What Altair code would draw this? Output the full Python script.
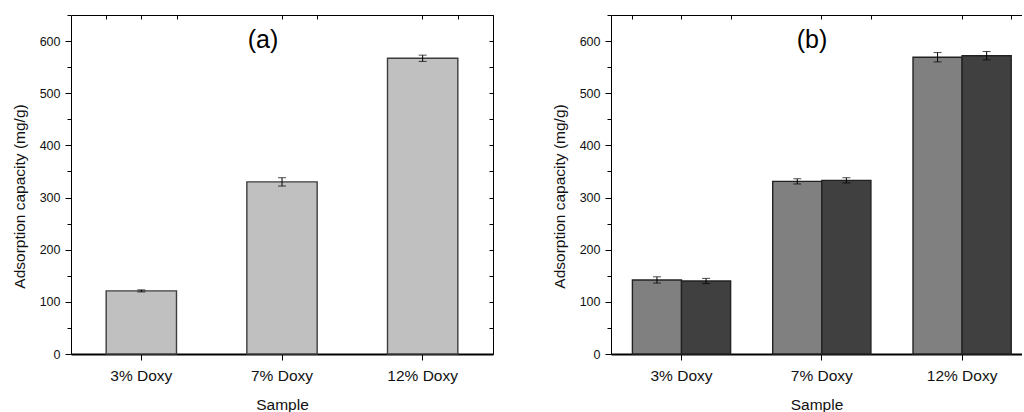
import altair as alt
import pandas as pd

# ---- data ----
samples = ["3% Doxy", "7% Doxy", "12% Doxy"]

a_values = [121, 330, 567]
a_errors = [2, 8, 6]

b_series = ["Series 1", "Series 2"]
b1_values = [142, 331, 569]
b1_errors = [6, 5, 9]
b2_values = [140, 333, 572]
b2_errors = [5, 5, 8]

panel_labels = ["(a)", "(b)"]
y_ticks = list(range(0, 651, 50))

FONT = "Liberation Sans"

# ---- tables ----
df_a = pd.DataFrame({"sample": samples, "value": a_values, "err": a_errors})
df_a["lo"] = df_a["value"] - df_a["err"]
df_a["hi"] = df_a["value"] + df_a["err"]

rows = []
for s, vals, errs in zip(b_series, [b1_values, b2_values], [b1_errors, b2_errors]):
    for c, v, e in zip(samples, vals, errs):
        rows.append({"sample": c, "series": s, "value": v, "lo": v - e, "hi": v + e})
df_b = pd.DataFrame(rows)

y_scale = alt.Scale(domain=[0, 650], nice=False, zero=True)


def left_axis():
    return alt.Axis(
        values=y_ticks,
        labelExpr="datum.value % 100 === 0 ? datum.label : ''",
        tickSize={"condition": {"test": "datum.value % 100 === 0", "value": 6}, "value": 4},
        tickColor="black", tickWidth=1,
        domain=True, domainColor="black", domainWidth=1,
        labelFont=FONT, labelFontSize=12.5, labelColor="#111", labelPadding=5,
        title="Adsorption capacity (mg/g)", titleFont=FONT, titleFontSize=15.5,
        titleFontWeight="normal", titleColor="#111", titleX=-44, titleY=181,
        grid=False,
    )


def right_tick_axis():
    return alt.Axis(
        orient="right", values=y_ticks, offset=-4, tickSize=4, tickColor="black",
        domain=False, labels=False, title=None, grid=False,
    )


def right_line_axis():
    return alt.Axis(
        orient="right", ticks=False, domain=True, domainColor="black", domainWidth=1,
        labels=False, title=None, grid=False,
    )


def bottom_axis():
    return alt.Axis(
        orient="bottom", labelAngle=0, tickSize=6, tickColor="black",
        domain=True, domainColor="black", domainWidth=2,
        labelFont=FONT, labelFontSize=15.5, labelColor="#111", labelPadding=20,
        labelBaseline="alphabetic",
        title="Sample", titleFont=FONT, titleFontSize=15.5, titleFontWeight="normal",
        titleColor="#111", titleY=55, titleBaseline="alphabetic", grid=False,
    )


def top_tick_axis(band):
    return alt.Axis(
        orient="top", offset=-4, tickSize=4, tickColor="black", tickBand=band,
        domain=False, labels=False, title=None, grid=False,
    )


def top_line_axis():
    return alt.Axis(
        orient="top", ticks=False, domain=True, domainColor="black", domainWidth=1,
        labels=False, title=None, grid=False,
    )


def panel(df, grouped, label, label_x, width):
    if grouped:
        xs = alt.Scale(paddingInner=0.3, paddingOuter=0.1147, align=0.665)
    else:
        xs = alt.Scale(paddingInner=0.5, paddingOuter=0.25)

    def X(axis):
        return alt.X("sample:N", sort=samples, scale=xs, axis=axis)

    base = alt.Chart(df)
    extra = {}
    if grouped:
        extra["xOffset"] = alt.XOffset(
            "series:N", sort=b_series, scale=alt.Scale(paddingInner=0, paddingOuter=0)
        )
        bar_enc = dict(
            color=alt.Color(
                "series:N",
                scale=alt.Scale(domain=b_series, range=["#808080", "#404040"]),
                legend=None,
            )
        )
        bars = base.mark_bar(stroke="#222222", strokeWidth=1.4)
    else:
        bar_enc = {}
        bars = base.mark_bar(color="#c0c0c0", stroke="#3c3c3c", strokeWidth=1.4)

    bars = bars.encode(
        x=X(bottom_axis()),
        y=alt.Y("value:Q", scale=y_scale, axis=left_axis()),
        **extra, **bar_enc,
    )
    rules = base.mark_rule(color="black", strokeWidth=1).encode(
        x=X(top_tick_axis("center")),
        y=alt.Y("lo:Q", scale=y_scale, axis=None if grouped else right_tick_axis()),
        y2="hi:Q",
        **extra,
    )
    caps_lo = base.mark_tick(color="black", size=8, thickness=1).encode(
        x=X(top_tick_axis("extent")),
        y=alt.Y("lo:Q", scale=y_scale, axis=None if grouped else right_line_axis()),
        **extra,
    )
    caps_hi = base.mark_tick(color="black", size=8, thickness=1).encode(
        x=X(top_line_axis()),
        y=alt.Y("hi:Q", scale=y_scale, axis=None),
        **extra,
    )
    text = alt.Chart(pd.DataFrame({"label": [label]})).mark_text(
        font=FONT, fontSize=25, color="black", align="center", baseline="alphabetic"
    ).encode(text="label:N", x=alt.value(label_x), y=alt.value(33))

    return alt.layer(bars, rules, caps_lo, caps_hi, text).resolve_axis(
        x="independent", y="independent"
    ).properties(width=width, height=339)


chart_a = panel(df_a, False, panel_labels[0], 192, 422)
chart_b = panel(df_b, True, panel_labels[1], 201, 411)

chart = alt.hconcat(chart_a, chart_b, spacing=118, bounds="flush").configure_view(
    strokeWidth=0
).properties(
    padding={"left": 12, "top": 14, "right": 0, "bottom": 0},
    background="white",
)

chart.save("out.html", embed_options={"renderer": "svg", "actions": False})
